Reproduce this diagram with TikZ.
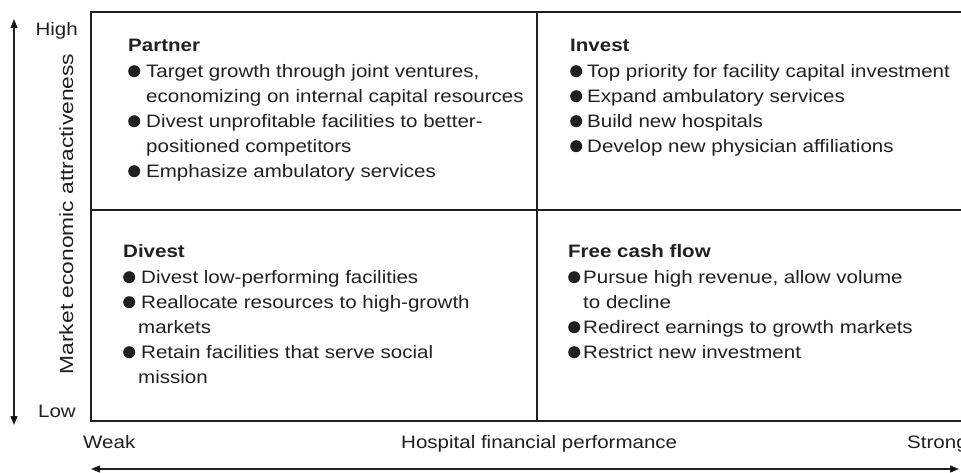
\documentclass[tikz,border=0pt]{standalone}
\usepackage{fontspec}
\setmainfont[FakeStretch=1.14]{Liberation Sans}
\newfontfamily\vlabfont[FakeStretch=1.2]{Liberation Sans}
\usetikzlibrary{arrows.meta}
\definecolor{ink}{HTML}{231F20}
\newcommand{\bdot}{\tikz[baseline=0pt]\fill[ink] (6pt,5.8pt) circle[radius=6pt];}
\tikzset{
  grid/.style={draw=ink, line width=2.6pt},
  axis/.style={draw=ink, line width=1.3pt, {Triangle[length=9pt,width=7pt]}-{Triangle[length=9pt,width=7pt]}},
  quad/.style={anchor=base west, inner sep=0pt, text=ink, font=\fontsize{18}{25}\selectfont},
  lbl/.style={inner sep=0pt, text=ink, font=\fontsize{18}{20}\selectfont},
  vlbl/.style={inner sep=0pt, text=ink, font=\vlabfont\fontsize{19}{20}\selectfont},
}
\begin{document}
\begin{tikzpicture}[x=1pt,y=-1pt]
\useasboundingbox (0,0) rectangle (961,472);
% grid
\draw[grid] (961,12) -- (91,12) -- (91,421) -- (961,421);
\draw[grid] (91,210) -- (961,210);
\draw[grid] (537,12) -- (537,421);
% quadrant texts
\node[quad] (partner) at (128,51) {\begin{tabular}[t]{@{}l@{\hspace{6pt}}l@{}}
\multicolumn{2}{@{}l@{}}{\bfseries Partner}\\[1pt]
\bdot & Target growth through joint ventures,\\
 & economizing on internal capital resources\\
\bdot & Divest unprofitable facilities to better-\\
 & positioned competitors\\
\bdot & Emphasize ambulatory services
\end{tabular}};
\node[quad] (invest) at (570,51) {\begin{tabular}[t]{@{}l@{\hspace{5pt}}l@{}}
\multicolumn{2}{@{}l@{}}{\bfseries Invest}\\[1pt]
\bdot & Top priority for facility capital investment\\
\bdot & Expand ambulatory services\\
\bdot & Build new hospitals\\
\bdot & Develop new physician affiliations
\end{tabular}};
\node[quad] (divest) at (123,257) {\begin{tabular}[t]{@{}l@{\hspace{6pt}}l@{}}
\multicolumn{2}{@{}l@{}}{\bfseries Divest}\\[1pt]
\bdot & Divest low-performing facilities\\
\bdot & Reallocate resources to high-growth\\
 & \hspace{-3pt}markets\\
\bdot & Retain facilities that serve social\\
 & \hspace{-3pt}mission
\end{tabular}};
\node[quad] (freecash) at (568,257) {\begin{tabular}[t]{@{}l@{\hspace{3pt}}l@{}}
\multicolumn{2}{@{}l@{}}{\bfseries Free cash flow}\\[1pt]
\bdot & Pursue high revenue, allow volume\\
 & to decline\\
\bdot & Redirect earnings to growth markets\\
\bdot & Restrict new investment
\end{tabular}};
% axis labels
\node[lbl, anchor=base east] (high) at (78,35) {High};
\node[lbl, anchor=base east] (low) at (76,417) {Low};
\node[lbl, anchor=base west] (weak) at (83,448) {Weak};
\node[lbl, anchor=base west] (hfp) at (401,448) {Hospital financial performance};
\node[lbl, anchor=base west] (strong) at (907,448) {Strong};
\node[vlbl, anchor=base, rotate=90] (mea) at (73,214) {Market economic attractiveness};
% axes
\coordinate (vtop) at (14,19);
\coordinate (vbot) at (14,425);
\coordinate (hleft) at (91,469);
\coordinate (hright) at (959,469);
\draw[axis] (vbot) -- (vtop);
\draw[axis] (hleft) -- (hright);
\end{tikzpicture}
\end{document}
